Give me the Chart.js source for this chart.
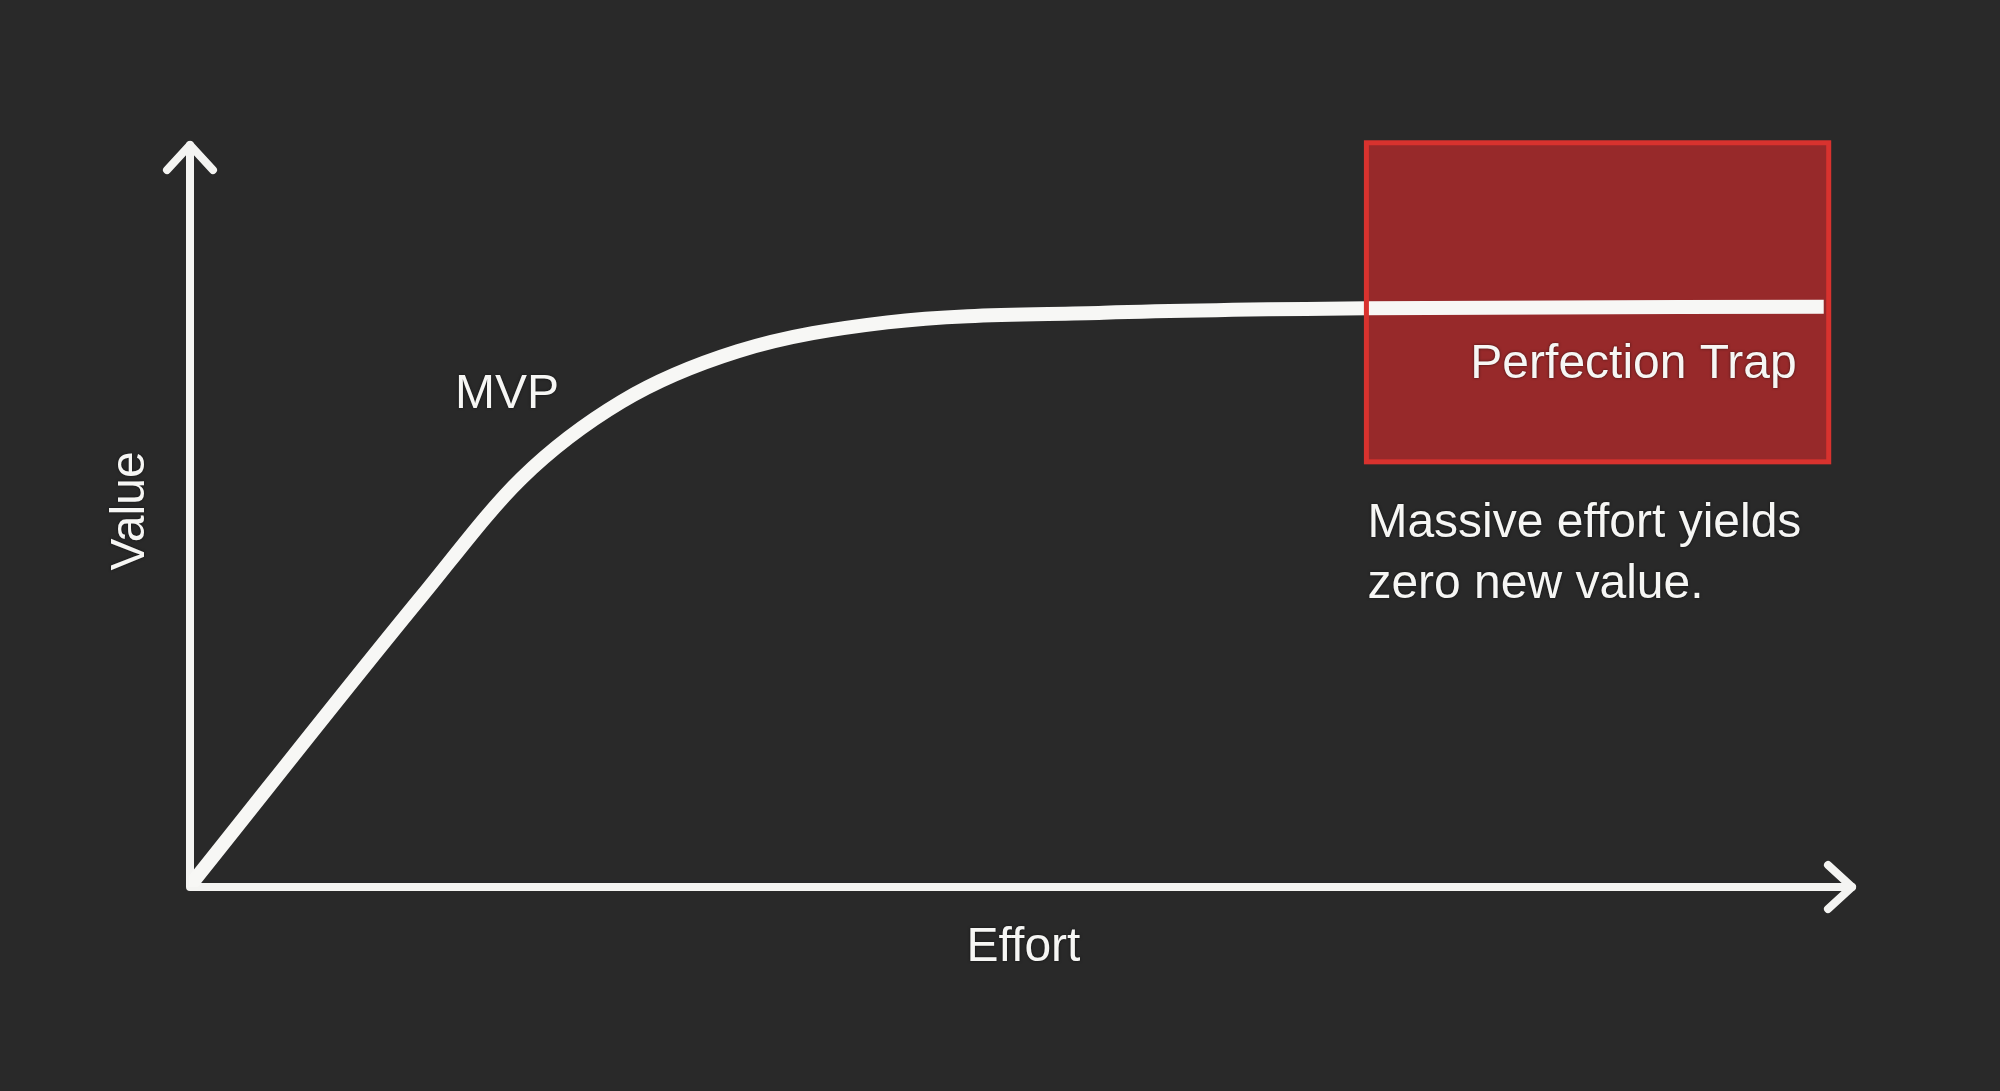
<!DOCTYPE html>
<html>
<head>
<meta charset="utf-8">
<script src="https://cdn.jsdelivr.net/npm/chart.js@4.4.0/dist/chart.umd.min.js"></script>
<style>
  html, body { margin: 0; padding: 0; background: #292929; }
  #wrap { width: 2000px; height: 1091px; position: relative; }
</style>
</head>
<body>
<div id="wrap"><canvas id="curve"></canvas></div>
<script>
// effort (x) and value (y), both on a 0-100 scale
var effort = [0, 14, 20, 26, 33, 42, 55, 70.8, 98.3];
var value  = [0, 39.2, 55.1, 65.4, 72.2, 76.1, 77.4, 78.0, 78.2];

var axisTitles = ["Effort", "Value"];
var mvpLabel = ["MVP", 16.0, 64.5];          // text, effort, value
var trapLabel = "Perfection Trap";
var trapNote = ["Massive effort yields", "zero new value."];
var trapZone = { x0: 70.8, x1: 98.6, y0: 57.3, y1: 100.3 };

var font = '"Liberation Sans", Arial, sans-serif';

var points = [];
for (var i = 0; i < effort.length; i++) {
  points.push({ x: effort[i], y: value[i] });
}

function arrow(ctx, tx, ty, ax, ay, bx, by) {
  ctx.beginPath();
  ctx.moveTo(ax, ay);
  ctx.lineTo(tx, ty);
  ctx.lineTo(bx, by);
  ctx.stroke();
}

var sketch = {
  id: 'sketch',
  beforeDatasetsDraw: function (chart) {
    var ctx = chart.ctx, xs = chart.scales.x, ys = chart.scales.y;
    var x0 = xs.getPixelForValue(0), x1 = xs.getPixelForValue(100);
    var y0 = ys.getPixelForValue(0), y1 = ys.getPixelForValue(100);

    // red zone fill
    var bl = xs.getPixelForValue(trapZone.x0), br = xs.getPixelForValue(trapZone.x1);
    var bt = ys.getPixelForValue(trapZone.y1), bb = ys.getPixelForValue(trapZone.y0);
    ctx.save();
    ctx.fillStyle = '#97292a';
    ctx.fillRect(bl, bt, br - bl, bb - bt);

    // axes with arrow heads
    ctx.strokeStyle = '#f4f4f2';
    ctx.lineWidth = 8;
    ctx.lineCap = 'round';
    ctx.lineJoin = 'round';
    ctx.beginPath();
    ctx.moveTo(x0 + 1, y1);
    ctx.lineTo(x0 + 1, y0);
    ctx.lineTo(x1, y0);
    ctx.stroke();
    arrow(ctx, x0 + 1, y1, x0 - 22, y1 + 25, x0 + 24, y1 + 25);
    arrow(ctx, x1, y0, x1 - 24, y0 - 22, x1 - 24, y0 + 22);
    ctx.restore();
  },
  afterDatasetsDraw: function (chart) {
    var ctx = chart.ctx, xs = chart.scales.x, ys = chart.scales.y;
    var bl = xs.getPixelForValue(trapZone.x0), br = xs.getPixelForValue(trapZone.x1);
    var bt = ys.getPixelForValue(trapZone.y1), bb = ys.getPixelForValue(trapZone.y0);

    ctx.save();
    ctx.strokeStyle = '#d8322e';
    ctx.lineWidth = 5;
    ctx.strokeRect(bl, bt, br - bl, bb - bt);

    ctx.fillStyle = '#f6f6f4';
    ctx.shadowColor = 'rgba(0,0,0,0.6)';
    ctx.shadowBlur = 3;
    ctx.font = '48px ' + font;
    ctx.textBaseline = 'alphabetic';

    // axis titles
    ctx.textAlign = 'center';
    ctx.fillText(axisTitles[0], (xs.left + xs.right) / 2 + 3, ys.bottom + 74);
    ctx.save();
    ctx.translate(xs.left - 45, (ys.top + ys.bottom) / 2 - 5);
    ctx.rotate(-Math.PI / 2);
    ctx.fillText(axisTitles[1], 0, 0);
    ctx.restore();

    // MVP label
    ctx.textAlign = 'left';
    ctx.fillText(mvpLabel[0], xs.getPixelForValue(mvpLabel[1]), ys.getPixelForValue(mvpLabel[2]));

    // zone label and note
    ctx.textAlign = 'right';
    ctx.fillText(trapLabel, br - 32, bt + 235);
    ctx.textAlign = 'left';
    ctx.fillText(trapNote[0], bl + 1, bb + 75);
    ctx.fillText(trapNote[1], bl + 1, bb + 136);
    ctx.restore();
  }
};

new Chart(document.getElementById("curve"), {
  type: 'line',
  data: {
    datasets: [
      {
        label: "Value",
        data: points,
        borderColor: "#f7f7f5",
        borderWidth: 14,
        borderCapStyle: 'butt',
        borderJoinStyle: 'round',
        cubicInterpolationMode: 'monotone',
        pointRadius: 0,
        fill: false
      }
    ]
  },
  options: {
    responsive: true,
    maintainAspectRatio: false,
    animation: false,
    layout: { padding: { left: 189, right: 148, top: 145, bottom: 204 } },
    scales: {
      x: { type: 'linear', min: 0, max: 100, display: false },
      y: { type: 'linear', min: 0, max: 100, display: false }
    },
    plugins: {
      legend: { display: false },
      tooltip: { enabled: false },
      title: { display: false }
    }
  },
  plugins: [sketch]
});
</script>
</body>
</html>
